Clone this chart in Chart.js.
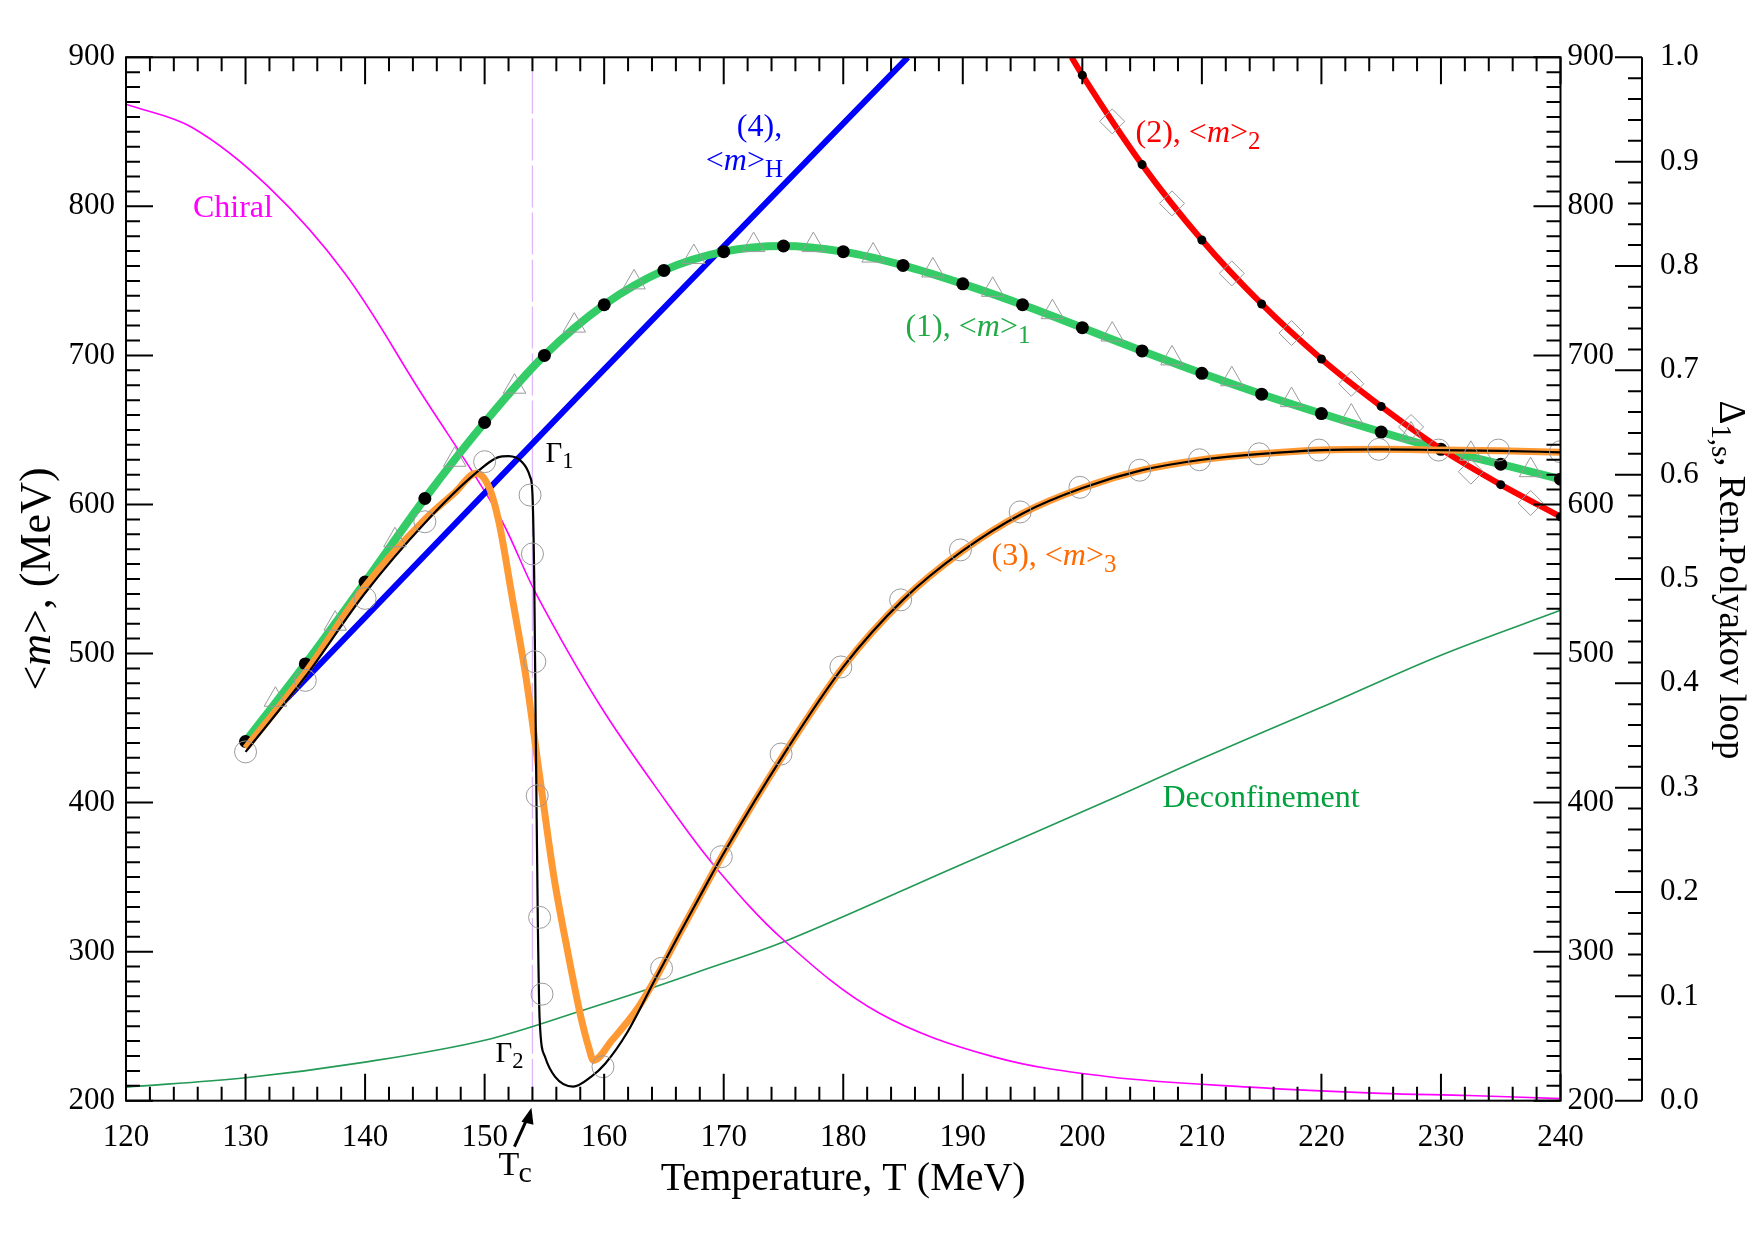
<!DOCTYPE html>
<html>
<head>
<meta charset="utf-8">
<script src="https://cdn.jsdelivr.net/npm/chart.js@4.4.1/dist/chart.umd.min.js"></script>
<style>
  html, body { margin: 0; padding: 0; background: #fff; }
  #wrap { width: 1755px; height: 1240px; position: relative; }
</style>
</head>
<body>
<div id="wrap"><canvas id="massChart"></canvas></div>
<script>
const serif = "'Liberation Serif', 'DejaVu Serif', serif";

// axis ranges
const tMin = 120, tMax = 240;
const mMin = 200, mMax = 900;
const tcTemp = 154.0;

// (1) <m>_1, green line with black dots
const t1 = [130, 135, 140, 145, 150, 155, 160, 165, 170, 175, 180, 185, 190, 195, 200, 205, 210, 215, 220, 225, 230, 235, 240];
const m1 = [441, 493, 548, 604, 655, 700, 734, 757, 769.6, 773.4, 769.6, 760.4, 748, 734, 718.6, 703, 688, 674, 661, 648.6, 637, 627, 617];
// open triangles between the dots
const tTri = [132.5, 137.5, 142.5, 147.5, 152.5, 157.5, 162.5, 167.5, 172.5, 177.5, 182.5, 187.5, 192.5, 197.5, 202.5, 207.5, 212.5, 217.5, 222.5, 227.5, 232.5, 237.5];
const mTri = [469, 520, 576, 630, 679, 720, 749, 766, 774, 774, 767, 757, 744, 729, 714, 698, 684, 670, 659, 647, 634, 623];

// (2) <m>_2, red line
const t2 = [199.1, 200, 205, 210, 215, 220, 225, 230, 235, 240];
const m2 = [900, 888, 828, 777.4, 734.5, 697.6, 665.8, 637.2, 613.3, 591.8];
const tDia = [202.5, 207.5, 212.5, 217.5, 222.5, 227.5, 232.5, 237.5];
const mDia = [857, 802, 755, 715, 681, 652, 622, 601];

// (4) <m>_H, blue line
const tH = [130, 157.5, 185.4];
const mH = [441, 670, 900];

// (3) <m>_3, orange line
const t3 = [130, 135, 140, 145, 147.5, 149.3, 150.4, 151.2, 152.3, 153.5, 154.6, 155.8, 156.9, 158.0, 158.7, 159.1, 160.7, 162.8, 164.3, 166.3, 168, 170, 175, 180, 185, 190, 195, 200, 205, 210, 215, 220, 225, 230, 235, 240];
const m3 = [436.5, 487, 545, 590, 608, 621, 611, 588, 538, 482, 418, 350, 302, 258, 236, 227, 241, 262, 282, 312, 337, 366, 432, 491, 536, 569, 594, 611, 623, 630, 634, 636.5, 637, 636.5, 636, 635];

// Gamma curve, thin black
const tG = [130, 135, 140, 145, 149.4, 151.1, 152.0, 153.1, 153.8, 154.0, 154.15, 154.3, 154.45, 154.6, 155.05, 155.9, 157.4, 158.9, 160.1, 161.9, 164.3, 166.3, 168, 170, 175, 180, 185, 190, 195, 200, 205, 210, 215, 220, 225, 230, 235, 240];
const mG = [434, 484.4, 540.6, 587.6, 622, 631.6, 632.5, 628.7, 618.6, 607, 550, 430, 320, 255, 229.5, 216, 209.4, 216, 225, 245.4, 282, 312, 337, 366, 432, 491, 536, 569, 594, 611, 623, 630, 634, 636.5, 637, 636.5, 636, 635];

// open circles
const tC = [130, 135, 140, 145, 150, 153.8, 154.0, 154.2, 154.4, 154.6, 154.8, 159.9, 164.8, 169.8, 174.8, 179.8, 184.8, 189.8, 194.8, 199.8, 204.8, 209.8, 214.8, 219.8, 224.8, 229.8, 234.8, 240];
const mC = [434, 482, 537, 588.4, 628.7, 606.3, 566.8, 494.5, 404.6, 323, 271.5, 222.8, 288.8, 363.7, 432.6, 491, 536, 569.5, 595, 611.5, 623, 630, 634, 636.5, 637, 636.5, 636.5, 635.4];

// right axis: chiral condensate and Polyakov loop
const tCh = [120, 125.5, 131.9, 138.3, 144.7, 151.1, 154.3, 159.7, 165.1, 169.3, 175, 183, 192.6, 202.2, 214, 225, 232.3, 240];
const chiral = [0.955, 0.933, 0.876, 0.793, 0.678, 0.563, 0.486, 0.378, 0.288, 0.224, 0.154, 0.084, 0.042, 0.023, 0.013, 0.007, 0.005, 0.002];
const tDe = [120, 130, 140, 150, 158.3, 163.7, 168, 175.4, 189.4, 202, 210, 220, 230, 240];
const deconf = [0.013, 0.022, 0.037, 0.058, 0.087, 0.107, 0.124, 0.154, 0.224, 0.287, 0.328, 0.377, 0.427, 0.470];

const pts = (xs, ys) => xs.map((x, i) => ({ x: x, y: ys[i] }));

// text labels in data coordinates (left axis)
const notes = [
  { x: 125.6, y: 793, color: '#ff00ff', size: 32, parts: [['Chiral', 'n']] },
  { x: 171.1, y: 847, color: '#0000ff', size: 32, parts: [['(4),', 'n']] },
  { x: 168.5, y: 824.6, color: '#0000ff', size: 32, parts: [['<', 'n'], ['m', 'i'], ['>', 'n'], ['H', 's']] },
  { x: 204.45, y: 843.4, color: '#ff0000', size: 32, parts: [['(2), <', 'n'], ['m', 'i'], ['>', 'n'], ['2', 's']] },
  { x: 185.2, y: 713, color: '#22aa44', size: 32, parts: [['(1), <', 'n'], ['m', 'i'], ['>', 'n'], ['1', 's']] },
  { x: 192.4, y: 559.4, color: '#ff6a00', size: 32, parts: [['(3), <', 'n'], ['m', 'i'], ['>', 'n'], ['3', 's']] },
  { x: 206.7, y: 397.2, color: '#00a03c', size: 32, parts: [['Deconfinement', 'n']] },
  { x: 155.1, y: 628.7, color: '#000', size: 29, parts: [['\u0393', 'n'], ['1', 's']] },
  { x: 150.9, y: 226, color: '#000', size: 29, parts: [['\u0393', 'n'], ['2', 's']] }
];

function drawRich(ctx, x, y, parts, size, color) {
  let cx = x;
  ctx.fillStyle = color;
  ctx.textBaseline = 'alphabetic';
  ctx.textAlign = 'left';
  for (const [txt, kind] of parts) {
    const s = kind === 's' ? size * 0.78 : size;
    ctx.font = (kind === 'i' ? 'italic ' : '') + s + 'px ' + serif;
    ctx.fillText(txt, cx, y + (kind === 's' ? size * 0.22 : 0));
    cx += ctx.measureText(txt).width;
  }
  return cx - x;
}

function richWidth(ctx, parts, size) {
  let w = 0;
  for (const [txt, kind] of parts) {
    const s = kind === 's' ? size * 0.78 : size;
    ctx.font = (kind === 'i' ? 'italic ' : '') + s + 'px ' + serif;
    w += ctx.measureText(txt).width;
  }
  return w;
}

const decorations = {
  id: 'decorations',
  afterDraw(chart) {
    const { ctx, chartArea: a, scales } = chart;
    const xs = scales.x, ys = scales.y, ps = scales.y2;
    ctx.save();
    ctx.strokeStyle = '#000';
    ctx.lineWidth = 2;
    ctx.strokeRect(a.left, a.top, a.right - a.left, a.bottom - a.top);
    ctx.beginPath();
    ctx.moveTo(ps.left, a.top);
    ctx.lineTo(ps.left, a.bottom);
    // temperature ticks every 2 MeV
    for (let i = 0; i <= (tMax - tMin) / 2; i++) {
      const t = tMin + i * 2;
      const px = xs.getPixelForValue(t);
      const len = t % 10 === 0 ? 27 : 14;
      ctx.moveTo(px, a.bottom); ctx.lineTo(px, a.bottom - len);
      ctx.moveTo(px, a.top); ctx.lineTo(px, a.top + len);
    }
    // mass ticks every 10 MeV, both sides
    for (let i = 0; i <= (mMax - mMin) / 10; i++) {
      const m = mMin + i * 10;
      const py = ys.getPixelForValue(m);
      const len = m % 100 === 0 ? 27 : 14;
      ctx.moveTo(a.left, py); ctx.lineTo(a.left + len, py);
      ctx.moveTo(a.right, py); ctx.lineTo(a.right - len, py);
    }
    // Polyakov axis ticks every 0.02
    for (let i = 0; i <= 50; i++) {
      const py = ps.getPixelForValue(i / 50);
      const len = i % 5 === 0 ? 27 : 14;
      ctx.moveTo(ps.left, py); ctx.lineTo(ps.left - len, py);
    }
    ctx.stroke();

    // arrow marking Tc
    const tipX = xs.getPixelForValue(tcTemp) - 1, tipY = a.bottom + 7;
    ctx.beginPath();
    ctx.lineWidth = 3;
    ctx.moveTo(tipX - 17, tipY + 39);
    ctx.lineTo(tipX - 3, tipY + 8);
    ctx.stroke();
    ctx.beginPath();
    ctx.fillStyle = '#000';
    ctx.moveTo(tipX, tipY);
    ctx.lineTo(tipX - 10, tipY + 14);
    ctx.lineTo(tipX + 2, tipY + 17);
    ctx.closePath();
    ctx.fill();
    drawRich(ctx, tipX - 33, a.bottom + 74, [['T', 'n']], 34, '#000');
    ctx.font = '30px ' + serif;
    ctx.fillText('c', tipX - 13, a.bottom + 81);

    // curve labels
    for (const n of notes) {
      drawRich(ctx, xs.getPixelForValue(n.x), ys.getPixelForValue(n.y), n.parts, n.size, n.color);
    }

    // left axis title
    const lParts = [['<', 'n'], ['m', 'i'], ['>, (MeV)', 'n']];
    const lw = richWidth(ctx, lParts, 44);
    ctx.save();
    ctx.translate(50, (a.top + a.bottom) / 2);
    ctx.rotate(-Math.PI / 2);
    drawRich(ctx, -lw / 2, 0, lParts, 44, '#000');
    ctx.restore();

    // right axis title
    const rParts = [['\u0394', 'n'], ['1,s', 's'], [', Ren.Polyakov loop', 'n']];
    const rw = richWidth(ctx, rParts, 37);
    ctx.save();
    ctx.translate(1720, (a.top + a.bottom) / 2 + 1);
    ctx.rotate(Math.PI / 2);
    drawRich(ctx, -rw / 2, 0, rParts, 37, '#000');
    ctx.restore();

    ctx.restore();
  }
};

const lineDefaults = { showLine: true, pointRadius: 0, cubicInterpolationMode: 'monotone', yAxisID: 'y' };
const thinDefaults = { showLine: true, pointRadius: 0, tension: 0.35, yAxisID: 'y2' };
const openMarker = { showLine: false, pointBackgroundColor: 'rgba(255,255,255,0)', pointBorderColor: '#9a9a9a', pointBorderWidth: 1, yAxisID: 'y' };

new Chart(document.getElementById('massChart'), {
  type: 'scatter',
  data: {
    datasets: [
      // listed from top layer to bottom layer
      { ...openMarker, label: 'triangles', data: pts(tTri, mTri), pointStyle: 'triangle', pointRadius: 13 },
      { ...openMarker, label: 'diamonds', data: pts(tDia, mDia), pointStyle: 'rectRot', pointRadius: 12.5 },
      { ...openMarker, label: 'circles', data: pts(tC, mC), pointStyle: 'circle', pointRadius: 11 },
      { ...lineDefaults, label: 'Gamma', data: pts(tG, mG), borderColor: '#000', borderWidth: 2.2 },
      { ...lineDefaults, label: '(3) <m>3', data: pts(t3, m3), borderColor: '#ff9933', borderWidth: 7 },
      { ...lineDefaults, label: '(2) <m>2', data: pts(t2, m2), borderColor: '#ff0000', borderWidth: 6,
        pointRadius: t2.map((t, i) => i === 0 ? 0 : 4.5), pointBackgroundColor: '#000', pointBorderWidth: 0 },
      { ...lineDefaults, label: '(1) <m>1', data: pts(t1, m1), borderColor: '#33cc66', borderWidth: 8,
        pointRadius: 6.5, pointBackgroundColor: '#000', pointBorderWidth: 0 },
      { ...lineDefaults, label: '(4) <m>H', data: pts(tH, mH), borderColor: '#0000ff', borderWidth: 6 },
      { ...thinDefaults, label: 'Chiral', data: pts(tCh, chiral), borderColor: '#ff00ff', borderWidth: 1.6 },
      { ...thinDefaults, label: 'Deconfinement', data: pts(tDe, deconf), borderColor: '#229955', borderWidth: 1.6 },
      { ...lineDefaults, label: 'Tc', data: [{ x: tcTemp, y: mMin }, { x: tcTemp, y: mMax }], borderColor: '#dfb6f7', borderWidth: 1.3, borderDash: [42, 5] }
    ]
  },
  options: {
    responsive: true,
    maintainAspectRatio: false,
    animation: false,
    events: [],
    layout: { padding: { top: 57.3, left: 0, right: 0, bottom: 0 } },
    plugins: { legend: { display: false }, tooltip: { enabled: false } },
    scales: {
      x: {
        type: 'linear', position: 'bottom', min: tMin, max: tMax,
        grid: { display: false, drawTicks: false },
        border: { display: false },
        ticks: { stepSize: 10, autoSkip: false, maxRotation: 0, padding: 19, color: '#000', font: { family: serif, size: 31 } },
        title: { display: true, text: 'Temperature, T (MeV)', color: '#000', font: { family: serif, size: 40 }, padding: { top: 0, bottom: 37 } },
        afterFit: s => { s.height = 139.3; }
      },
      y: {
        type: 'linear', position: 'left', min: mMin, max: mMax,
        grid: { display: false, drawTicks: false },
        border: { display: false },
        ticks: { stepSize: 100, padding: 11, color: '#000', font: { family: serif, size: 31 } },
        afterFit: s => { s.width = 126; }
      },
      yR: {
        type: 'linear', position: 'right', min: mMin, max: mMax, weight: 1,
        grid: { display: false, drawTicks: false },
        border: { display: false },
        ticks: { stepSize: 100, padding: 7, color: '#000', font: { family: serif, size: 31 } },
        afterFit: s => { s.width = 81.5; }
      },
      y2: {
        type: 'linear', position: 'right', min: 0, max: 1, weight: 2,
        grid: { display: false, drawTicks: false },
        border: { display: false },
        ticks: { stepSize: 0.1, padding: 18, color: '#000', font: { family: serif, size: 31 }, callback: v => v.toFixed(1) },
        afterFit: s => { s.width = 113; }
      }
    }
  },
  plugins: [decorations]
});
</script>
</body>
</html>
